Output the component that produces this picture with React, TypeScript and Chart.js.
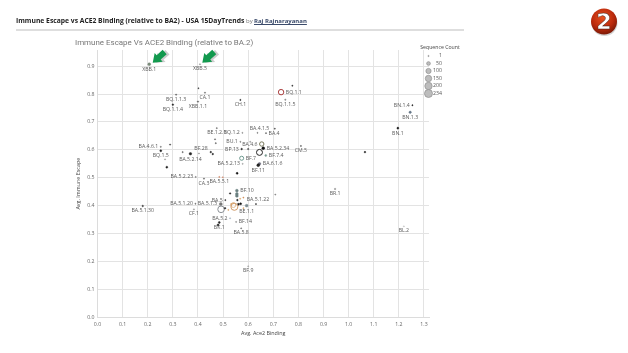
import React, { useEffect, useRef } from "react";
import { Chart, registerables } from "chart.js";

Chart.register(...registerables);

const names = ["XBB.1","XBB.5","","CA.1","BQ.1.1.3","BQ.1.1.4","XBB.1.1","CH.1","BQ.1.1","","BQ.1.1.5","","BA.4.1.5","BA.4","BE.1.2.1","BQ.1.2","BU.1","","BA.4.6","BP.13","","BA.5.2.34","","BF.7.4","BF.7","BA.5.2.13","BA.6.1.6","BF.11","CM.5","BA.4.6.1","","BQ.1.5","","","","BA.5.2.14","BF.28","","","","","BA.5.2.23","CA.3","BA.5.5.1","","","","BF.10","","","BA.5","BA.5.1.22","","BE.1.1","BA.5.1.20","BA.5.1.3","CF.1","","","","","","","","","","","","BA.5.2","BK.1","","BF.14","BA.5.8","BF.9","BA.5.1.30","BN.1.4","BN.1.3","BN.1","","BL.2","BR.1",""];
const ace2Binding = [0.206,0.408,0.402,0.428,0.313,0.3,0.4,0.569,0.731,0.776,0.748,0.706,0.637,0.671,0.475,0.577,0.569,0.608,0.654,0.574,0.6,0.66,0.645,0.67,0.574,0.578,0.645,0.64,0.81,0.252,0.289,0.252,0.269,0.276,0.339,0.37,0.404,0.451,0.459,0.468,0.471,0.391,0.424,0.485,0.499,0.556,0.528,0.555,0.555,0.555,0.509,0.631,0.581,0.594,0.39,0.491,0.384,0.492,0.521,0.561,0.57,0.508,0.568,0.541,0.545,0.581,0.532,0.557,0.528,0.485,0.48,0.552,0.572,0.6,0.18,1.254,1.245,1.196,1.065,1.22,0.946,0.708];
const immuneEscape = [0.907,0.907,0.821,0.805,0.798,0.762,0.773,0.779,0.807,0.83,0.78,0.676,0.661,0.66,0.678,0.661,0.629,0.629,0.621,0.603,0.603,0.606,0.591,0.58,0.57,0.55,0.55,0.545,0.614,0.611,0.619,0.597,0.566,0.538,0.592,0.586,0.587,0.592,0.585,0.638,0.624,0.503,0.497,0.503,0.502,0.516,0.444,0.454,0.442,0.435,0.42,0.406,0.429,0.4,0.407,0.406,0.387,0.387,0.385,0.405,0.407,0.391,0.425,0.402,0.396,0.391,0.406,0.42,0.355,0.34,0.331,0.342,0.319,0.183,0.399,0.76,0.735,0.678,0.592,0.326,0.46,0.44];
const sequenceCount = [30,3,3,6,6,10,8,6,107,6,8,3,3,3,3,3,3,3,70,10,8,30,130,15,60,4,25,30,6,3,6,15,3,15,6,25,3,10,10,4,4,4,4,3,3,15,8,30,30,30,3,6,3,30,4,35,3,160,4,15,15,10,4,80,180,4,4,10,3,15,15,3,3,3,10,6,20,15,10,2,8,3];
const ringColors = ["#7a8a7a","#888","#333","#666","#555","#222","#555","#222","#a83a3a","#333","#888","#444","#777","#555","#666","#888","#777","#888","#77775a","#222","#444","#111","#222","#7a9a90","#6d9a90","#999","#667","#222","#555","#666","#333","#222","#999","#222","#555","#222","#888","#222","#222","#555","#555","#777","#555","#d08060","#d08060","#111","#111","#6a8080","#6a8080","#6a8080","#111","#222","#d08a50","#7a8a90","#555","#777","#888","#8a8f94","#d8a060","#111","#111","#111","#d8a060","#d8a060","#cf9a68","#d8a060","#d8a060","#111","#9ab","#222","#222","#888","#666","#999","#333","#222","#678","#222","#111","#bbb","#888","#777"];

const labelSides: Record<string, string> = {
  "BQ.1.1": "right", "BA.4": "right", "BQ.1.2": "left", "BU.1": "left", "BA.4.6": "left", "BP.13": "left",
  "BA.5.2.34": "right", "BF.7.4": "right", "BF.7": "right", "BA.5.2.13": "left", "BA.6.1.6": "right",
  "BA.4.6.1": "left", "BA.5.2.23": "left", "BF.10": "right", "BA.5": "left", "BA.5.1.20": "left",
  "BA.5.1.3": "left", "BA.5.2": "left", "BF.14": "right", "BN.1.4": "left", "BA.4.1.5": "above",
  "BA.5.1.22": "above", "BF.28": "above",
};

const xTickValues = [0, 0.1, 0.2, 0.3, 0.4, 0.5, 0.6, 0.7, 0.8, 0.9, 1.0, 1.1, 1.2, 1.3];
const yTickValues = [0, 0.1, 0.2, 0.3, 0.4, 0.5, 0.6, 0.7, 0.8, 0.9];
const xMax = 1.32;
const yMax = 0.958;
const legendCounts = [1, 50, 100, 150, 200, 234];

const radiusOf = (count: number) => Math.max(0.6, 4 * Math.sqrt(count / 234));

const FONT = "'Open Sans', sans-serif";

const labelPlugin = {
  id: "pointLabels",
  afterDatasetsDraw(chart: any) {
    const { ctx } = chart;
    const meta = chart.getDatasetMeta(0);
    ctx.save();
    ctx.font = `5.2px ${FONT}`;
    ctx.fillStyle = "#5a5a5a";
    names.forEach((name, i) => {
      if (!name) return;
      const el = meta.data[i];
      const r = radiusOf(sequenceCount[i]);
      const side = labelSides[name] || "below";
      ctx.textBaseline = "middle";
      if (side === "below") {
        ctx.textAlign = "center";
        ctx.fillText(name, el.x, el.y + r + 4);
      } else if (side === "above") {
        ctx.textAlign = "center";
        ctx.fillText(name, el.x + 2, el.y - r - 4);
      } else if (side === "left") {
        ctx.textAlign = "right";
        ctx.fillText(name, el.x - r - 2, el.y);
      } else {
        ctx.textAlign = "left";
        ctx.fillText(name, el.x + r + 2, el.y);
      }
    });
    // size legend
    ctx.fillStyle = "#444";
    ctx.textAlign = "center";
    ctx.font = `5.2px ${FONT}`;
    ctx.fillText("Sequence Count", 440, 48);
    legendCounts.forEach((c, i) => {
      const y = 56 + i * 7.5;
      ctx.beginPath();
      ctx.arc(428.5, y, radiusOf(c), 0, Math.PI * 2);
      ctx.fillStyle = "#bdbdbd";
      ctx.fill();
      ctx.strokeStyle = "#8f8f8f";
      ctx.lineWidth = 0.7;
      ctx.stroke();
      ctx.fillStyle = "#555";
      ctx.textAlign = "right";
      ctx.font = `5.2px ${FONT}`;
      ctx.fillText(String(c), 442, y);
    });
    ctx.restore();
  },
};

const Arrow = ({ x, y }: { x: number; y: number }) => (
  <g transform={`translate(${x} ${y}) rotate(-41.7)`}>
    <polygon points="2,2 10,-4 10,-1 18,-1 18,5 10,5 10,8" fill="#9a9a9a" opacity="0.5" />
    <polygon points="0,0 8,-6 8,-3 16,-3 16,3 8,3 8,6" fill="#12994e" />
  </g>
);

export default function App() {
  const ref = useRef<HTMLCanvasElement>(null);
  useEffect(() => {
    const gridColor = "#e3e3e3";
    const chart = new Chart(ref.current!, {
      type: "scatter",
      data: {
        datasets: [
          {
            data: ace2Binding.map((x, i) => ({ x, y: immuneEscape[i] })),
            pointRadius: sequenceCount.map(radiusOf),
            backgroundColor: sequenceCount.map((c, i) =>
              c >= 60 && ringColors[i] !== "#111" ? "rgba(255,255,255,0.3)" : ringColors[i]
            ),
            borderColor: ringColors,
            borderWidth: sequenceCount.map((c) => (c >= 60 ? 1 : 0.4)),
          },
        ],
      },
      options: {
        animation: false,
        responsive: false,
        devicePixelRatio: 1,
        layout: { padding: { left: 73, top: 50, right: 199, bottom: 16.7 } },
        plugins: { legend: { display: false }, tooltip: { enabled: false } },
        scales: {
          x: {
            type: "linear",
            min: 0,
            max: xMax,
            afterFit: (s: any) => { s.height = 19; },
            grid: { color: gridColor, lineWidth: 1, drawTicks: false },
            border: { color: "#dcdcdc" },
            afterBuildTicks: (s: any) => { s.ticks = xTickValues.map((value) => ({ value })); },
            ticks: { padding: 4, maxRotation: 0, autoSkip: false, color: "#666", font: { size: 5.2, family: FONT },
              callback: (v: any) => Number(v).toFixed(1) },
            title: { display: true, text: "Avg. Ace2 Binding", color: "#444", font: { size: 5.4, family: FONT }, padding: { top: 0, bottom: 0 } },
          },
          y: {
            type: "linear",
            min: 0,
            max: yMax,
            afterFit: (s: any) => { s.width = 24.5; },
            grid: { color: gridColor, lineWidth: 1, drawTicks: false },
            border: { color: "#dcdcdc" },
            afterBuildTicks: (s: any) => { s.ticks = yTickValues.map((value) => ({ value })); },
            ticks: { padding: 3, autoSkip: false, color: "#666", font: { size: 5.2, family: FONT },
              callback: (v: any) => Number(v).toFixed(1) },
            title: { display: true, text: "Avg. Immune Escape", color: "#444", font: { size: 5.4, family: FONT }, padding: { top: 2, bottom: 0 } },
          },
        },
      },
      plugins: [labelPlugin],
    } as any);
    return () => chart.destroy();
  }, []);

  return (
    <div style={{ position: "fixed", left: 0, top: 0, width: 628, height: 353, background: "#fff", overflow: "hidden", fontFamily: FONT }}>
      <canvas ref={ref} width={628} height={353} style={{ position: "absolute", left: 0, top: 0, display: "block" }} />
      <div style={{ position: "absolute", left: 16, top: 15, fontSize: 6.75, lineHeight: "12px", fontWeight: 700, color: "#222", whiteSpace: "nowrap" }}>
        Immune Escape vs ACE2 Binding (relative to BA2) - USA 15DayTrends
      </div>
      <div style={{ position: "absolute", left: 246, top: 15, fontSize: 6, lineHeight: "12px", color: "#777", whiteSpace: "nowrap" }}>by</div>
      <div style={{ position: "absolute", left: 254, top: 15, fontSize: 6, lineHeight: "12px", fontWeight: 700, color: "#3a4a6a", textDecoration: "underline", whiteSpace: "nowrap" }}>Raj Rajnarayanan</div>
      <div style={{ position: "absolute", left: 16, top: 29, width: 448, height: 1.5, background: "#dedede" }} />
      <div style={{ position: "absolute", left: 75, top: 37, fontFamily: "Roboto, sans-serif", fontSize: 7.95, lineHeight: "12px", color: "#777", whiteSpace: "nowrap" }}>
        Immune Escape Vs ACE2 Binding (relative to BA.2)
      </div>
      <svg width={628} height={353} style={{ position: "absolute", left: 0, top: 0, pointerEvents: "none" }}>
        <defs>
          <radialGradient id="badge" cx="45%" cy="35%" r="70%">
            <stop offset="0%" stopColor="#e8521f" />
            <stop offset="60%" stopColor="#bb2a0c" />
            <stop offset="100%" stopColor="#6e1606" />
          </radialGradient>
        </defs>
        <Arrow x={152.7} y={62.7} />
        <Arrow x={202.3} y={62.7} />
        <circle cx={604.5} cy={23} r={13} fill="#aaa" opacity="0.5" />
        <circle cx={604} cy={21.5} r={13} fill="url(#badge)" />
        <text x={604} y={29} textAnchor="middle" fontFamily="'Liberation Sans Narrow', 'DejaVu Sans', sans-serif" fontWeight="700" fontSize={22} fill="#fff" stroke="#3a1a10" strokeWidth={0.4}>2</text>
      </svg>
    </div>
  );
}
